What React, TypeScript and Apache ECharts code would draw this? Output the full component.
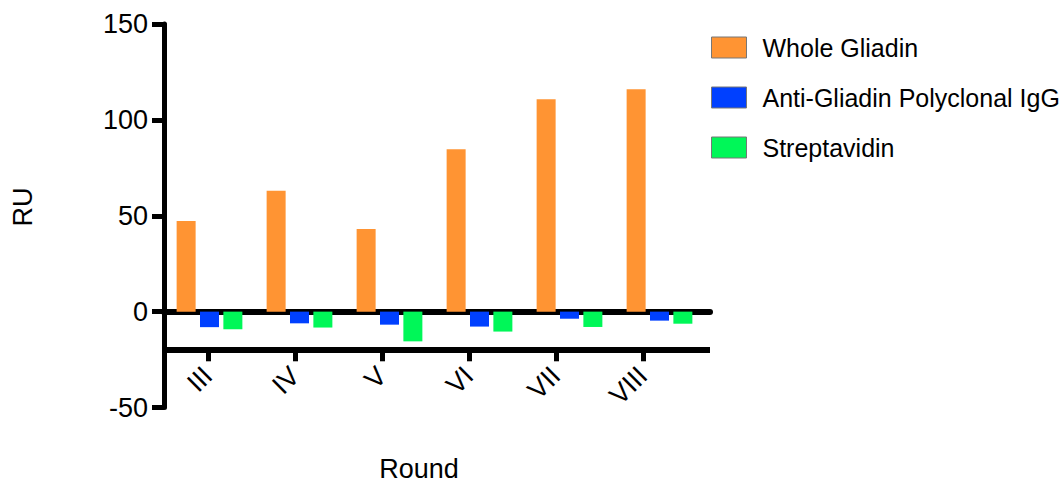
import React, { useEffect, useRef } from "react";
import * as echarts from "echarts";

const rounds = ["III", "IV", "V", "VI", "VII", "VIII"];
const wholeGliadin = [47.3, 63, 43.1, 84.7, 110.8, 116.0];
const antiGliadinIgG = [-8.1, -6.1, -6.8, -7.8, -3.7, -4.7];
const streptavidin = [-9.2, -8.3, -15.5, -10.4, -8.0, -6.3];
const seriesNames = ["Whole Gliadin", "Anti-Gliadin Polyclonal IgG", "Streptavidin"];
const seriesColors = ["#FF9433", "#0040FF", "#00F758"];
const yMin = -50;
const yMax = 150;
const yStep = 50;
const categoryAxisLevel = -20;

const FONT = "'Liberation Sans', Arial, sans-serif";

export default function App() {
  const ref = useRef<HTMLDivElement>(null);
  useEffect(() => {
    document.body.style.margin = "0";
    const chart = echarts.init(ref.current!, undefined, { renderer: "svg" });
    const top = 24;
    const height = 383.5;
    const barData = [wholeGliadin, antiGliadinIgG, streptavidin];
    chart.setOption({
      animation: false,
      backgroundColor: "#fff",
      textStyle: { fontFamily: FONT },
      grid: [
        { left: 164.5, width: 540, top, height },
        { left: 164, width: 546, top, height },
        { left: 164.3, width: 522, top, height: 349.3 - top },
      ],
      xAxis: [
        { type: "category", gridIndex: 0, data: rounds, show: false },
        {
          type: "category",
          gridIndex: 1,
          data: rounds,
          axisLine: { show: true, onZero: true, lineStyle: { color: "#000", width: 6 } },
          axisTick: { show: false },
          axisLabel: { show: false },
        },
        {
          type: "category",
          gridIndex: 2,
          data: rounds,
          position: "bottom",
          axisLine: { show: false, onZero: false },
          axisTick: { show: true, alignWithLabel: true, length: 12, lineStyle: { color: "#000", width: 5 } },
          axisLabel: { rotate: 45, fontSize: 27, color: "#000", margin: 22, fontFamily: FONT },
        },
      ],
      yAxis: [
        { type: "value", gridIndex: 0, min: yMin, max: yMax, interval: yStep, show: false },
        {
          type: "value",
          gridIndex: 1,
          min: yMin,
          max: yMax,
          interval: yStep,
          axisLine: { show: true, lineStyle: { color: "#000", width: 5 } },
          axisTick: { show: true, length: 12, lineStyle: { color: "#000", width: 5 } },
          axisLabel: { fontSize: 27, color: "#000", margin: 16, fontFamily: FONT },
          splitLine: { show: false },
        },
        { type: "value", gridIndex: 2, min: yMin, max: yMax, show: false },
      ],
      legend: {
        orient: "vertical",
        left: 706,
        top: 30,
        itemWidth: 35,
        itemHeight: 21,
        itemGap: 25,
        data: seriesNames,
        icon: "rect",
        textStyle: { fontSize: 25, color: "#000", fontFamily: FONT, padding: [0, 0, 0, 11] },
        itemStyle: { borderColor: "#777", borderWidth: 1 },
      },
      series: [
        ...seriesNames.map((name, i) => ({
          name,
          type: "bar",
          xAxisIndex: 0,
          yAxisIndex: 0,
          data: barData[i],
          barWidth: 19,
          barGap: "23%",
          itemStyle: { color: seriesColors[i] },
        })),
        {
          name: "axis",
          type: "line",
          xAxisIndex: 1,
          yAxisIndex: 1,
          data: [],
          silent: true,
          markLine: {
            silent: true,
            symbol: "none",
            label: { show: false },
            lineStyle: { color: "#000", width: 6, type: "solid" },
            data: [{ yAxis: categoryAxisLevel }],
          },
        },
      ],
      graphic: [
        {
          type: "text",
          x: 23,
          y: 207,
          rotation: Math.PI / 2,
          style: { text: "RU", fontSize: 27, fontFamily: FONT, fill: "#000", align: "center", verticalAlign: "middle" },
        },
        {
          type: "text",
          x: 419,
          y: 469,
          style: { text: "Round", fontSize: 27, fontFamily: FONT, fill: "#000", align: "center", verticalAlign: "middle" },
        },
      ],
    });
    return () => chart.dispose();
  }, []);
  return <div ref={ref} style={{ width: 1064, height: 486 }} />;
}
